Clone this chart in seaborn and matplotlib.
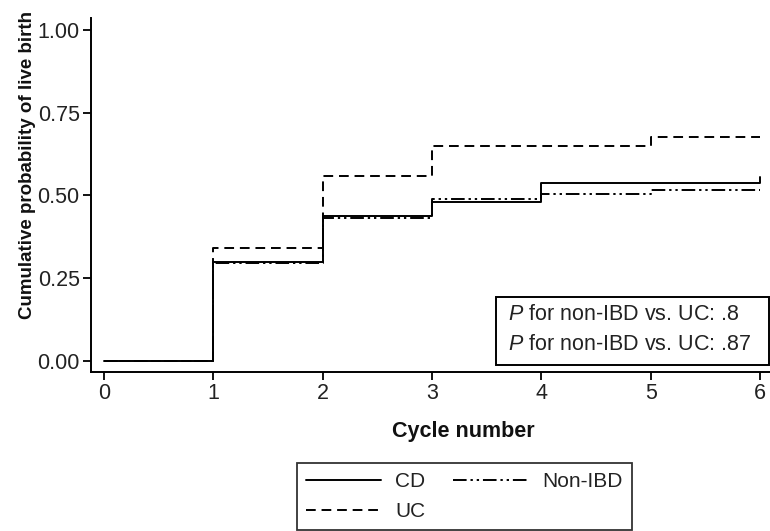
import numpy as np
import pandas as pd
import seaborn as sns
import matplotlib.pyplot as plt
from matplotlib.lines import Line2D
from matplotlib.patches import Rectangle

# cumulative probability of live birth by cycle
cycles = [0, 1, 2, 3, 4, 5, 6]
cd = [0.0, 0.298, 0.437, 0.479, 0.536, 0.536, 0.555]
non_ibd = [0.0, 0.295, 0.431, 0.488, 0.503, 0.515, 0.515]
uc = [0.0, 0.340, 0.560, 0.648, 0.648, 0.675, 0.675]

groups = ["CD", "UC", "Non-IBD"]
p_texts = ["$\\it{P}$ for non-IBD vs. UC: .8", "$\\it{P}$ for non-IBD vs. UC: .87"]

sns.set_style("ticks")
plt.rcParams['font.family'] = ['Liberation Sans', 'DejaVu Sans']
plt.rcParams['mathtext.fontset'] = 'custom'
plt.rcParams['mathtext.rm'] = 'Liberation Sans'
plt.rcParams['mathtext.it'] = 'Liberation Sans:italic'

fig = plt.figure(figsize=(7.7, 5.31), dpi=100)
ax = fig.add_axes([0.118, 0.2994, 0.882, 0.667])

styles = {"CD": "-", "UC": (0, (5, 3)), "Non-IBD": (0, (7, 2, 1.2, 2, 1.2, 2))}
series = {"CD": cd, "UC": uc, "Non-IBD": non_ibd}
for g in groups:
    df = pd.DataFrame({"cycle": cycles, "prob": series[g]})
    sns.lineplot(data=df, x="cycle", y="prob", ax=ax, color="black",
                 linestyle=styles[g], linewidth=1.4, drawstyle="steps-post",
                 estimator=None, legend=False)

ax.set_xlim(-0.119, 6.09)
ax.set_ylim(-0.033, 1.036)
ax.set_xticks(cycles)
ax.set_yticks([0, 0.25, 0.5, 0.75, 1.0])
ax.set_yticklabels(["0.00", "0.25", "0.50", "0.75", "1.00"])
ax.tick_params(labelsize=15.5, width=1.3, length=6, pad=2, color="black", labelcolor="#222222")
for s in ["left", "bottom"]:
    ax.spines[s].set_linewidth(1.4)
    ax.spines[s].set_color("black")
sns.despine(ax=ax)

ax.set_xlabel("Cycle number", fontsize=15.5, fontweight="bold", labelpad=12,
              color="#111111", x=0.549)
ax.set_ylabel("Cumulative probability of live birth", fontsize=13.5, fontweight="bold",
              labelpad=1, color="#111111", y=0.585)

# p-value box
ax.add_patch(Rectangle((0.596, 0.02), 0.4025, 0.192, transform=ax.transAxes,
                       fc="white", ec="black", lw=1.4, clip_on=False, zorder=5))
for txt, yy in zip(p_texts, [0.161, 0.0763]):
    ax.text(0.614, yy, txt, transform=ax.transAxes, ha="left", va="center",
            fontsize=15.5, color="#222222", zorder=6)

handles = [Line2D([], [], color="black", linestyle=styles[g], linewidth=1.4) for g in groups]
leg = fig.legend(handles, groups, loc="upper center", bbox_to_anchor=(0.603, 0.128), ncol=2,
                 fontsize=15, frameon=True, fancybox=False, edgecolor="black",
                 handlelength=3.6, handletextpad=0.65, columnspacing=1.35,
                 borderpad=0.45, labelspacing=0.5, borderaxespad=0)
leg.get_frame().set_linewidth(1.3)
for t in leg.get_texts():
    t.set_color("#222222")

fig.savefig("out.png", dpi=100)
